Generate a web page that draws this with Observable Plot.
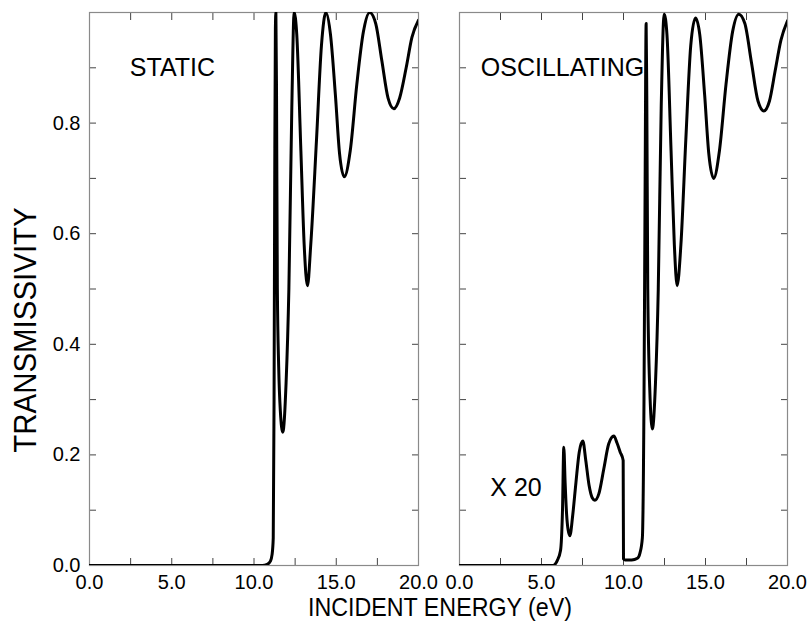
<!DOCTYPE html>
<html>
<head>
<meta charset="utf-8">
<script src="https://cdn.jsdelivr.net/npm/d3@7"></script>
<script src="https://cdn.jsdelivr.net/npm/@observablehq/plot@0.6"></script>
<style>
  html, body { margin: 0; padding: 0; background: #fff; }
  #wrap { position: relative; width: 809px; height: 623px; overflow: hidden; background: #fff;
          font-family: "Liberation Sans", Arial, Helvetica, sans-serif; color: #000; }
  .panel { position: absolute; top: 0; }
  .title { position: absolute; white-space: nowrap; line-height: 1; }
</style>
</head>
<body>
<div id="wrap">
  <div id="left" class="panel" style="left:0px"></div>
  <div id="right" class="panel" style="left:438px"></div>
  <div class="title" id="xtitle">INCIDENT ENERGY (eV)</div>
  <div class="title" id="ytitle">TRANSMISSIVITY</div>
</div>
<script>
// ---- data ----
const staticE = [0, 10.5, 10.8, 11.0, 11.1, 11.17, 11.22, 11.26, 11.3, 11.33, 11.37, 11.42, 11.5, 11.6, 11.75, 11.95, 12.12, 12.3, 12.44, 12.6, 12.85, 13.05, 13.25, 13.45, 13.8, 14.1, 14.37, 14.65, 14.95, 15.2, 15.49, 15.85, 16.25, 16.65, 17.03, 17.4, 17.77, 18.15, 18.5, 18.85, 19.25, 19.6, 20.0];
const staticT = [0, 0, 0.002, 0.008, 0.02, 0.05, 0.3, 0.7, 0.97, 1.0, 0.85, 0.5, 0.36, 0.28, 0.241, 0.33, 0.5, 0.83, 1.0, 0.96, 0.75, 0.58, 0.506, 0.58, 0.77, 0.94, 1.0, 0.96, 0.85, 0.745, 0.703, 0.75, 0.87, 0.965, 1.0, 0.98, 0.913, 0.845, 0.826, 0.845, 0.9, 0.955, 0.986];

const oscE = [0, 5.7, 5.96, 6.16, 6.28, 6.36, 6.44, 6.53, 6.62, 6.73, 6.9, 7.1, 7.3, 7.52, 7.7, 7.9, 8.1, 8.25, 8.5, 8.8, 9.1, 9.41, 9.6, 9.8, 9.98, 10.0, 10.1, 10.5, 10.85, 11.0, 11.15, 11.25, 11.32, 11.38, 11.42, 11.48, 11.6, 11.76, 11.95, 12.12, 12.3, 12.48, 12.65, 12.9, 13.1, 13.27, 13.5, 13.8, 14.1, 14.39, 14.65, 14.95, 15.2, 15.5, 15.85, 16.25, 16.65, 17.03, 17.4, 17.8, 18.2, 18.56, 18.9, 19.25, 19.6, 20.0];
const oscT = [0, 0, 0.009, 0.027, 0.1, 0.214, 0.15, 0.093, 0.065, 0.054, 0.09, 0.15, 0.205, 0.225, 0.19, 0.145, 0.122, 0.118, 0.13, 0.175, 0.22, 0.234, 0.222, 0.205, 0.19, 0.012, 0.01, 0.01, 0.013, 0.022, 0.05, 0.3, 0.7, 0.98, 0.85, 0.5, 0.32, 0.247, 0.33, 0.5, 0.83, 0.997, 0.96, 0.75, 0.58, 0.506, 0.58, 0.77, 0.94, 0.99, 0.96, 0.85, 0.745, 0.70, 0.75, 0.87, 0.965, 0.997, 0.98, 0.91, 0.84, 0.822, 0.84, 0.895, 0.95, 0.985];

const xTickMarks = [0, 2.5, 5, 7.5, 10, 12.5, 15, 17.5, 20];
const xTickLabels = [0, 5, 10, 15, 20];
const yTickMarks = [0, 0.1, 0.2, 0.3, 0.4, 0.5, 0.6, 0.7, 0.8, 0.9, 1.0];
const yTickLabels = [0, 0.2, 0.4, 0.6, 0.8];

const staticNotes = [{label: "STATIC", e: 2.45, t: 0.9}];
const oscNotes = [{label: "OSCILLATING", e: 1.3, t: 0.9}, {label: "X 20", e: 1.88, t: 0.141}];

const xTitle = "INCIDENT ENERGY (eV)";
const yTitle = "TRANSMISSIVITY";

// ---- build ----
const FONT = '"Liberation Sans", Arial, Helvetica, sans-serif';
const toRows = (E, T) => E.map((e, i) => ({e, t: T[i]}));

function panel({rows, notes, width, marginLeft, marginRight, showYLabels}) {
  const tickStroke = "#444";
  return Plot.plot({
    width, height: 623,
    marginLeft, marginRight, marginTop: 12, marginBottom: 58,
    x: {domain: [0, 20]},
    y: {domain: [0, 1]},
    style: {fontFamily: FONT, fontSize: "20px", background: "transparent", overflow: "visible", color: "#000"},
    marks: [
      Plot.axisY(yTickMarks, {anchor: "left", tickSize: 7, dx: 7, fill: "none", stroke: tickStroke, label: null}),
      Plot.axisY(yTickMarks, {anchor: "right", tickSize: 7, dx: -7, fill: "none", stroke: tickStroke, label: null}),
      Plot.axisX(xTickMarks, {anchor: "bottom", tickSize: 7, dy: -7, fill: "none", stroke: tickStroke, label: null}),
      Plot.axisX(xTickMarks, {anchor: "top", tickSize: 7, dy: 7, fill: "none", stroke: tickStroke, label: null}),
      showYLabels ? Plot.axisY(yTickLabels, {anchor: "left", tickSize: 0, tickPadding: 9, tickFormat: d3.format(".1f"), label: null, fontSize: 20}) : null,
      Plot.axisX(xTickLabels, {anchor: "bottom", tickSize: 0, tickPadding: 9, tickFormat: d3.format(".1f"), label: null, fontSize: 20}),
      Plot.frame({stroke: "#8a8a8a", strokeWidth: 1.2}),
      Plot.line(rows, {x: "e", y: "t", stroke: "#000", strokeWidth: 3, curve: "monotone-x", clip: true}),
      Plot.text(notes, {x: "e", y: "t", text: "label", textAnchor: "start", fontSize: 25, fill: "#000"})
    ]
  });
}

document.getElementById("left").append(panel({
  rows: toRows(staticE, staticT), notes: staticNotes,
  width: 438, marginLeft: 89, marginRight: 20, showYLabels: true
}));
document.getElementById("right").append(panel({
  rows: toRows(oscE, oscT), notes: oscNotes,
  width: 371, marginLeft: 21, marginRight: 22, showYLabels: false
}));

const xt = document.getElementById("xtitle");
xt.textContent = xTitle;
xt.style.fontSize = "25px";
xt.style.left = "440px";
xt.style.top = "607px";
xt.style.transform = "translate(-50%, -50%) scaleX(0.93)";

const yt = document.getElementById("ytitle");
yt.textContent = yTitle;
yt.style.fontSize = "31px";
yt.style.left = "25px";
yt.style.top = "330px";
yt.style.transform = "translate(-50%, -50%) rotate(-90deg) scaleX(0.95)";
</script>
</body>
</html>
